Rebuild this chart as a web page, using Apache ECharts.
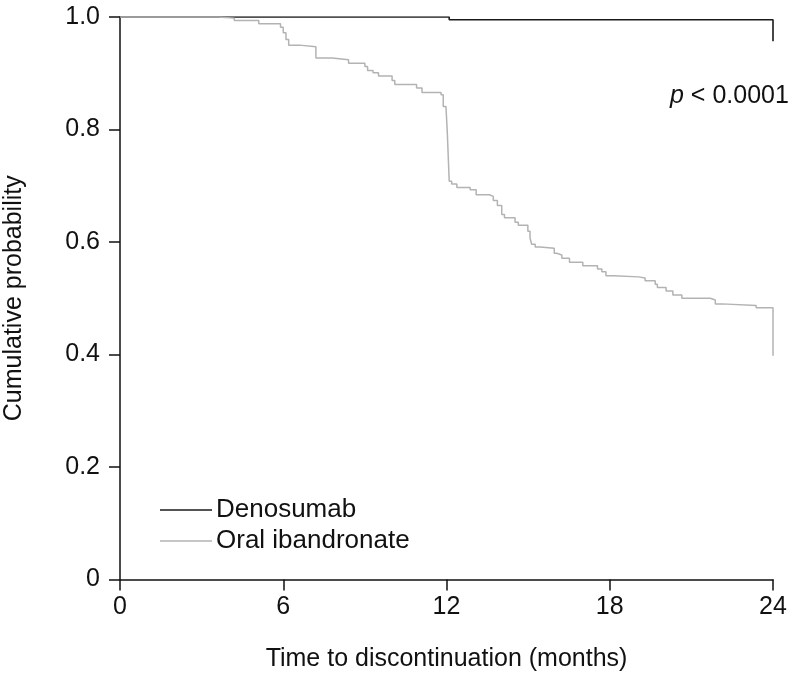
<!DOCTYPE html>
<html>
<head>
<meta charset="utf-8">
<script src="https://cdn.jsdelivr.net/npm/echarts@6/dist/echarts.min.js"></script>
<style>html,body{margin:0;padding:0;background:#fff}#c{width:799px;height:674px}</style>
</head>
<body>
<div id="c"></div>
<script>
const xTicks = [0, 6, 12, 18, 24];
const yTicks = ['0', '0.2', '0.4', '0.6', '0.8', '1.0'];
const seriesNames = ['Denosumab', 'Oral ibandronate'];
// Kaplan-Meier steps: [month, cumulative probability after the step]
const denosumab = [[0, 1.0], [12.1, 0.995], [24, 0.995], [24, 0.957]];
const ibandronate = [
  [0, 1.0], [3.6, 0.998], [4.2, 0.994], [5.1, 0.988], [5.9, 0.982], [6.0, 0.972],
  [6.1, 0.96], [6.2, 0.95], [6.6, 0.947], [7.2, 0.927], [7.8, 0.924], [8.4, 0.918],
  [9.0, 0.912], [9.1, 0.905], [9.3, 0.901], [9.5, 0.895], [10.0, 0.887], [10.1, 0.880],
  [10.9, 0.874], [11.1, 0.866], [11.8, 0.862], [11.88, 0.841], [11.98, 0.838],
  [12.03, 0.794], [12.1, 0.708], [12.19, 0.703], [12.38, 0.697], [12.87, 0.693],
  [13.09, 0.684], [13.58, 0.681], [13.72, 0.674], [13.87, 0.665], [14.03, 0.649],
  [14.13, 0.643], [14.52, 0.635], [14.64, 0.63], [14.99, 0.619], [15.07, 0.607],
  [15.13, 0.596], [15.26, 0.591], [15.44, 0.589], [15.96, 0.580], [16.05, 0.577],
  [16.24, 0.571], [16.52, 0.564], [17.01, 0.558], [17.55, 0.552], [17.71, 0.547],
  [17.86, 0.540], [18.14, 0.538], [19.06, 0.536], [19.3, 0.531], [19.67, 0.525],
  [19.75, 0.519], [20.07, 0.513], [20.32, 0.506], [20.65, 0.500], [21.69, 0.497],
  [21.88, 0.490], [22.12, 0.487], [23.38, 0.483], [24.0, 0.483], [24.0, 0.460], [24.0, 0.398]
];

const font = 'Liberation Sans, Arial, sans-serif';
const fs = 25;
const chart = echarts.init(document.getElementById('c'), null, {renderer: 'canvas'});
chart.setOption({
  animation: false,
  backgroundColor: '#fff',
  grid: {left: 120, right: 26, top: 17, bottom: 94.5, containLabel: false, outerBoundsMode: 'none'},
  xAxis: {
    type: 'value', min: 0, max: 24, interval: 6,
    name: 'Time to discontinuation (months)', nameLocation: 'middle', nameGap: 67,
    nameTextStyle: {fontFamily: font, fontSize: fs, color: '#111'},
    axisLine: {lineStyle: {color: '#111', width: 1.5}},
    axisTick: {show: true, length: 11, lineStyle: {color: '#111', width: 1.5}},
    axisLabel: {fontFamily: font, fontSize: fs, color: '#111', margin: 15,
      formatter: v => xTicks.indexOf(v) >= 0 ? String(v) : ''},
    splitLine: {show: false}
  },
  yAxis: {
    type: 'value', min: 0, max: 1, interval: 0.2,
    name: 'Cumulative probability', nameLocation: 'middle', nameGap: 93,
    nameTextStyle: {fontFamily: font, fontSize: fs, color: '#111'},
    axisLine: {show: true, lineStyle: {color: '#111', width: 1.5}},
    axisTick: {show: true, length: 11, lineStyle: {color: '#111', width: 1.5}},
    axisLabel: {fontFamily: font, fontSize: fs, color: '#111', margin: 20,
      formatter: v => yTicks[Math.round(v / 0.2)]},
    splitLine: {show: false}
  },
  legend: {
    data: seriesNames, orient: 'vertical', left: 155, top: 492,
    icon: 'rect', itemWidth: 52, itemHeight: 1.6, itemGap: 5,
    textStyle: {fontFamily: font, fontSize: 26, color: '#111', lineHeight: 26, padding: [0, 0, 0, -1]}
  },
  graphic: [{
    type: 'text', left: 670, top: 84,
    style: {
      text: '{i|p} < 0.0001',
      fontFamily: font, fontSize: fs, fill: '#111',
      rich: {i: {fontStyle: 'italic', fontFamily: font, fontSize: fs, fill: '#111'}}
    }
  }],
  series: [
    {name: seriesNames[0], type: 'line', step: 'end', symbol: 'none', data: denosumab,
      lineStyle: {color: '#1a1a1a', width: 1.6}, itemStyle: {color: '#1a1a1a'}, z: 2},
    {name: seriesNames[1], type: 'line', step: 'end', symbol: 'none', data: ibandronate,
      lineStyle: {color: '#b3b3b3', width: 1.5}, itemStyle: {color: '#b3b3b3'}, z: 3}
  ]
});
</script>
</body>
</html>
